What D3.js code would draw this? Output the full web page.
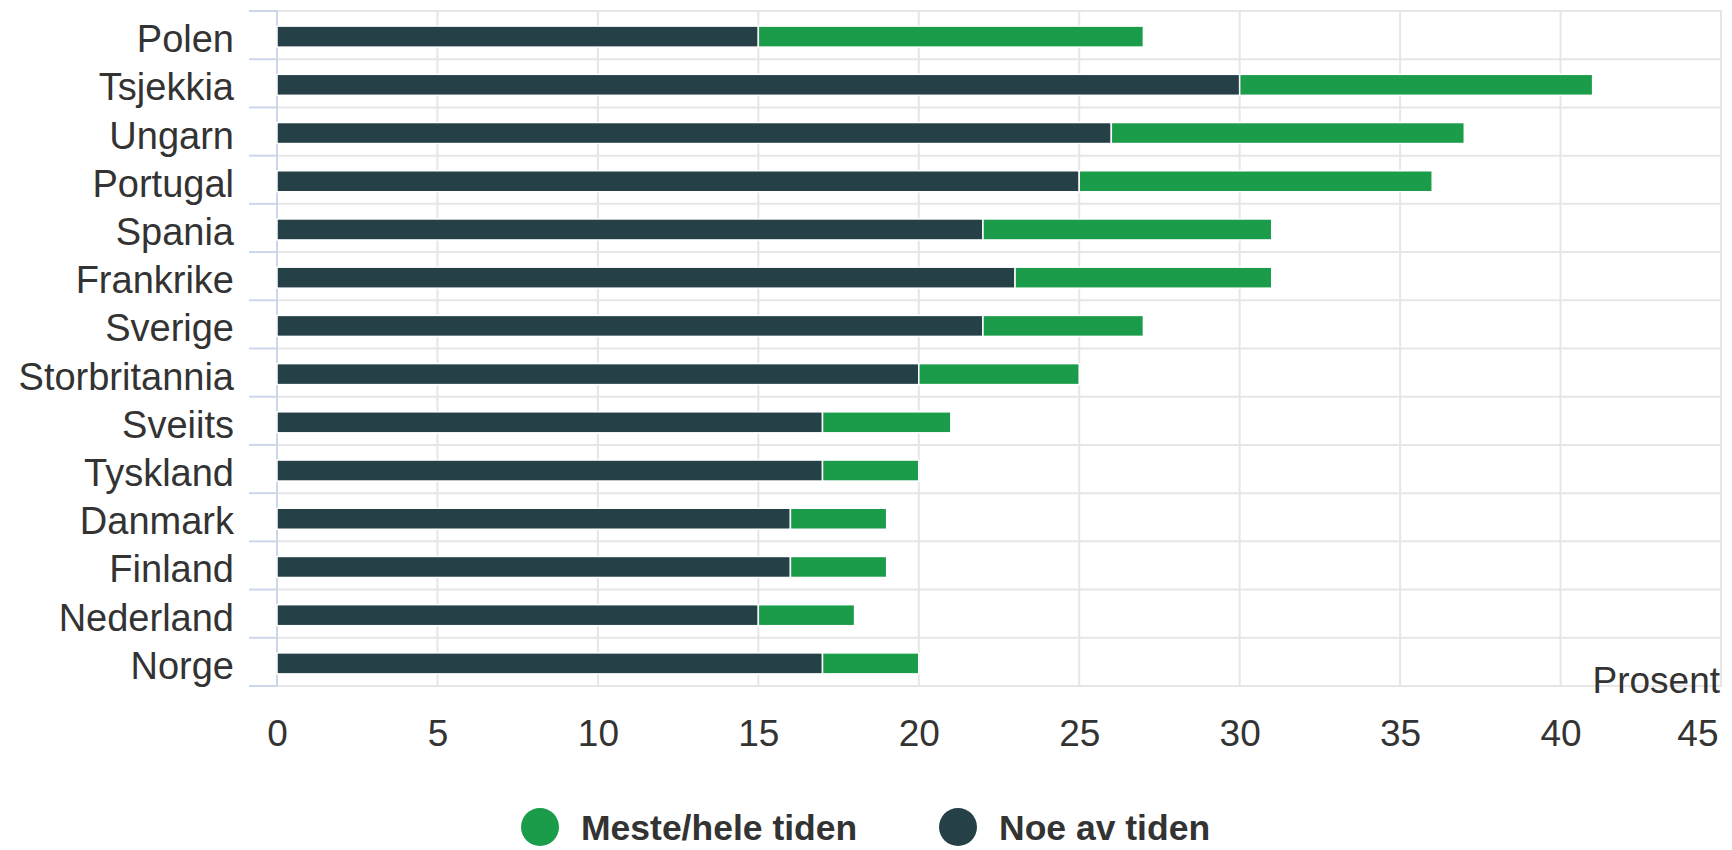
<!DOCTYPE html>
<html><head><meta charset="utf-8">
<script src="https://cdn.jsdelivr.net/npm/d3@7"></script>
<style>
html,body{margin:0;padding:0;background:#fff;}
svg{display:block;font-family:"Liberation Sans",Arial,sans-serif;}
</style></head>
<body><svg id="c" width="1732" height="850"></svg>
<script>
const categories = ["Polen","Tsjekkia","Ungarn","Portugal","Spania","Frankrike","Sverige","Storbritannia","Sveiits","Tyskland","Danmark","Finland","Nederland","Norge"];
const noeAvTiden = [15,30,26,25,22,23,22,20,17,17,16,16,15,17];
const mesteHeleTiden = [12,11,11,11,9,8,5,5,4,3,3,3,3,3];
const xTicks = [0,5,10,15,20,25,30,35,40,45];
const seriesNames = ["Meste/hele tiden","Noe av tiden"];
const colors = {"Meste/hele tiden":"#1b9c4a","Noe av tiden":"#254047"};

(function(){
const svg = d3.select("#c");
const pl = 277, pr = 1721, pt = 11, pb = 686;
const x = d3.scaleLinear().domain([0,45]).range([pl,pr]);
const y = d3.scaleBand().domain(categories).range([pt,pb]).paddingInner(0).paddingOuter(0);

// vertical gridlines
svg.append("g").selectAll("line").data(xTicks.filter(d=>d>0)).join("line")
  .attr("x1",d=>x(d)).attr("x2",d=>x(d)).attr("y1",pt).attr("y2",pb)
  .attr("stroke","#e6e6e6").attr("stroke-width",2);

// horizontal gridlines at category boundaries
const bounds = categories.map(c=>y(c)).concat([y(categories[categories.length-1])+y.bandwidth()]);
svg.append("g").selectAll("line").data(bounds).join("line")
  .attr("x1",pl).attr("x2",pr+1).attr("y1",d=>d).attr("y2",d=>d)
  .attr("stroke","#e6e6e6").attr("stroke-width",2);
// category ticks (left)
svg.append("g").selectAll("line").data(bounds).join("line")
  .attr("x1",249).attr("x2",pl).attr("y1",d=>d).attr("y2",d=>d)
  .attr("stroke","#ccd6eb").attr("stroke-width",2);
// axis line
svg.append("line").attr("x1",pl).attr("x2",pl).attr("y1",pt-1).attr("y2",pb+1)
  .attr("stroke","#ccd6eb").attr("stroke-width",2);

// bars
const bh = 21;
const g = svg.append("g");
categories.forEach((c,i)=>{
  const cy = y(c) + y.bandwidth()/2 + 1.5;
  g.append("rect").attr("x",x(0)).attr("y",cy-bh/2)
    .attr("width",x(noeAvTiden[i])-x(0)).attr("height",bh)
    .attr("fill",colors["Noe av tiden"]).attr("stroke","#fff").attr("stroke-width",1.5);
  g.append("rect").attr("x",x(noeAvTiden[i])).attr("y",cy-bh/2)
    .attr("width",x(noeAvTiden[i]+mesteHeleTiden[i])-x(noeAvTiden[i])).attr("height",bh)
    .attr("fill",colors["Meste/hele tiden"]).attr("stroke","#fff").attr("stroke-width",1.5);
});

// category labels
svg.append("g").selectAll("text").data(categories).join("text")
  .attr("x",234).attr("y",d=>y(d)+y.bandwidth()/2+4)
  .attr("text-anchor","end").attr("dominant-baseline","central")
  .attr("font-size",38).attr("fill","#333").text(d=>d);

// x axis labels
const xa = svg.append("g").attr("transform",`translate(0,${pb})`)
  .call(d3.axisBottom(x).tickValues(xTicks).tickSize(0).tickPadding(0).tickFormat(d3.format("d")));
xa.select(".domain").remove();
xa.selectAll("text").attr("font-size",37).attr("fill","#333")
  .attr("font-family","'Liberation Sans',Arial,sans-serif")
  .attr("dy",null).attr("y",60);
xa.selectAll(".tick").filter(d=>d===45).select("text").attr("text-anchor","end").attr("x",-3);

// axis title
svg.append("text").attr("x",1720).attr("y",693).attr("text-anchor","end")
  .attr("font-size",37).attr("fill","#333").text("Prosent");

// legend
const legX = [540, 958];
const lg = svg.append("g");
seriesNames.forEach((n,i)=>{
  lg.append("circle").attr("cx",legX[i]).attr("cy",827).attr("r",19).attr("fill",colors[n]);
  lg.append("text").attr("x",legX[i]+41).attr("y",828).attr("dominant-baseline","central")
    .attr("font-size",35.5).attr("font-weight","bold").attr("fill","#333").text(n);
});
})();
</script></body></html>
